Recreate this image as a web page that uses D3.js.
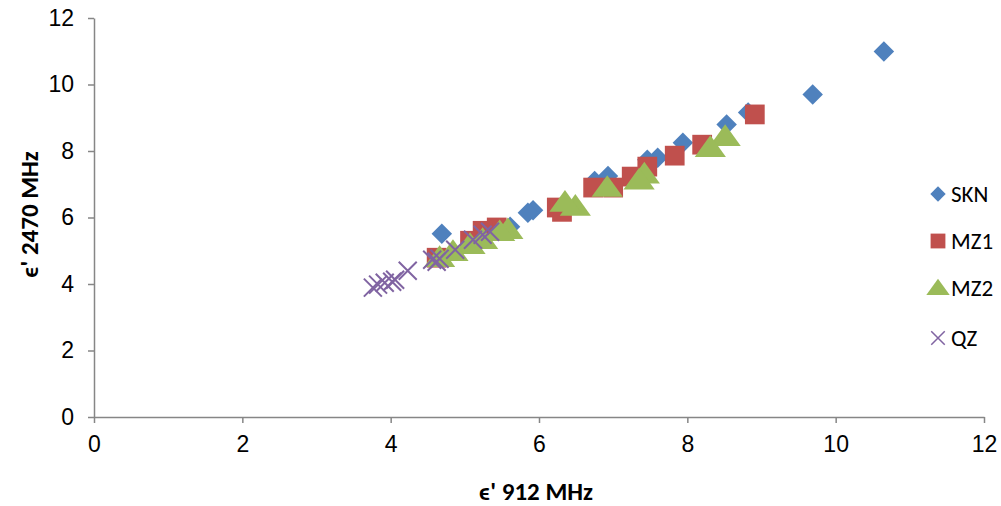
<!DOCTYPE html>
<html>
<head>
<meta charset="utf-8">
<script src="https://cdnjs.cloudflare.com/ajax/libs/d3/7.8.5/d3.min.js"></script>
<style>
  body { margin: 0; background: #fff; }
  svg { display: block; font-family: Carlito, Lato, "Open Sans", sans-serif; }
  .axis path, .axis line { stroke: #868686; stroke-width: 1.5; }
  .axis text { font-size: 23px; fill: #000; }
</style>
</head>
<body>
<div id="chart"></div>
<script>
  // series names and colours
  var seriesNames = ["SKN", "MZ1", "MZ2", "QZ"];
  var seriesColors = ["#4F81BD", "#C0504D", "#9BBB59", "#8064A2"];

  // [e' 912 MHz, e' 2470 MHz]
  var sknData = [
    [10.65, 10.99], [9.69, 9.70], [8.82, 9.16], [8.53, 8.80], [7.94, 8.25],
    [7.60, 7.80], [7.46, 7.74], [6.93, 7.25], [6.75, 7.10], [5.92, 6.22],
    [5.85, 6.14], [5.61, 5.72], [4.69, 5.51]
  ];
  var mz1Data = [
    [8.91, 9.10], [8.20, 8.19], [7.83, 7.86], [7.46, 7.53], [7.25, 7.23],
    [7.00, 6.90], [6.73, 6.90], [6.24, 6.30], [6.31, 6.17], [5.43, 5.70],
    [5.24, 5.60], [5.07, 5.30], [4.62, 4.79]
  ];
  var mz2Data = [
    [8.51, 8.43], [8.31, 8.10], [7.42, 7.30], [7.35, 7.12], [6.92, 6.90],
    [6.49, 6.33], [6.35, 6.45], [5.58, 5.63], [5.47, 5.57], [5.24, 5.33],
    [5.07, 5.18], [4.84, 4.97], [4.66, 4.79]
  ];
  var qzData = [
    [3.76, 3.89], [3.83, 3.98], [3.92, 4.04], [4.02, 4.07], [4.06, 4.13],
    [4.23, 4.40], [4.56, 4.73], [4.62, 4.67], [4.66, 4.76], [4.87, 5.03],
    [5.11, 5.33], [5.24, 5.48], [5.34, 5.57]
  ];
  var xTicks = [0, 2, 4, 6, 8, 10, 12];
  var yTicks = [0, 2, 4, 6, 8, 10, 12];

  var allSeries = [sknData, mz1Data, mz2Data, qzData];

  var margin = {top: 18, right: 16, bottom: 89, left: 94};
  var width = 1001 - margin.left - margin.right,
      height = 506 - margin.top - margin.bottom;

  var svg = d3.select("#chart").append("svg")
      .attr("width", 1001)
      .attr("height", 506);

  var canvas = svg.append("g")
      .attr("transform", "translate(" + margin.left + "," + margin.top + ")");

  var xScale = d3.scaleLinear().domain([0, 12]).range([0, 890]);
  var yScale = d3.scaleLinear().domain([0, 12]).range([height, 0]);

  // axes
  canvas.append("g")
      .attr("class", "x axis")
      .attr("transform", "translate(0," + height + ")")
      .call(d3.axisBottom(xScale).tickValues(xTicks).tickSize(6).tickSizeOuter(0).tickPadding(8))
      .call(function(g) { g.selectAll("text").attr("dy", "0.9em"); });

  canvas.append("g")
      .attr("class", "y axis")
      .call(d3.axisLeft(yScale).tickValues(yTicks).tickSize(6).tickSizeOuter(0).tickPadding(14));

  // axis titles
  svg.append("text")
      .attr("x", margin.left + xScale(6) - 3)
      .attr("y", 500)
      .attr("text-anchor", "middle")
      .style("font-size", "25px")
      .style("font-weight", "bold")
      .text("ϵ' 912 MHz");

  svg.append("text")
      .attr("transform", "translate(38," + (margin.top + yScale(6) - 3) + ") rotate(-90)")
      .attr("text-anchor", "middle")
      .style("font-size", "25px")
      .style("font-weight", "bold")
      .text("ϵ' 2470 MHz");

  // marker shapes
  var symbols = [
    d3.symbol().type(d3.symbolSquare).size(210),
    d3.symbol().type(d3.symbolSquare).size(390),
    d3.symbol().type(d3.symbolTriangle).size(270)
  ];

  function drawMarker(sel, i) {
    if (i === 3) {
      sel.append("path")
        .attr("d", "M-9,-9L9,9M-9,9L9,-9")
        .attr("stroke", seriesColors[i])
        .attr("stroke-width", 2)
        .attr("fill", "none");
    } else {
      var p = sel.append("path")
        .attr("d", symbols[i]())
        .attr("fill", seriesColors[i]);
      if (i === 0) p.attr("transform", "rotate(45)");
      if (i === 2) p.attr("transform", "translate(0,2) scale(1.25,1)");
    }
  }

  allSeries.forEach(function(data, i) {
    var pts = canvas.append("g")
        .selectAll(".pt" + i)
        .data(data)
        .enter()
        .append("g")
        .attr("transform", function(d) {
          return "translate(" + xScale(d[0]) + "," + yScale(d[1]) + ")";
        });
    pts.each(function() { drawMarker(d3.select(this), i); });
  });

  // legend
  var legendY = [194, 241, 288, 338];
  seriesNames.forEach(function(name, i) {
    var lg = svg.append("g").attr("transform", "translate(938," + legendY[i] + ")");
    var m = lg.append("g").attr("transform", "scale(0.75)");
    drawMarker(m, i);
    lg.append("text")
      .attr("x", 13)
      .attr("dy", "0.35em")
      .style("font-size", "23px")
      .text(name);
  });
</script>
</body>
</html>
